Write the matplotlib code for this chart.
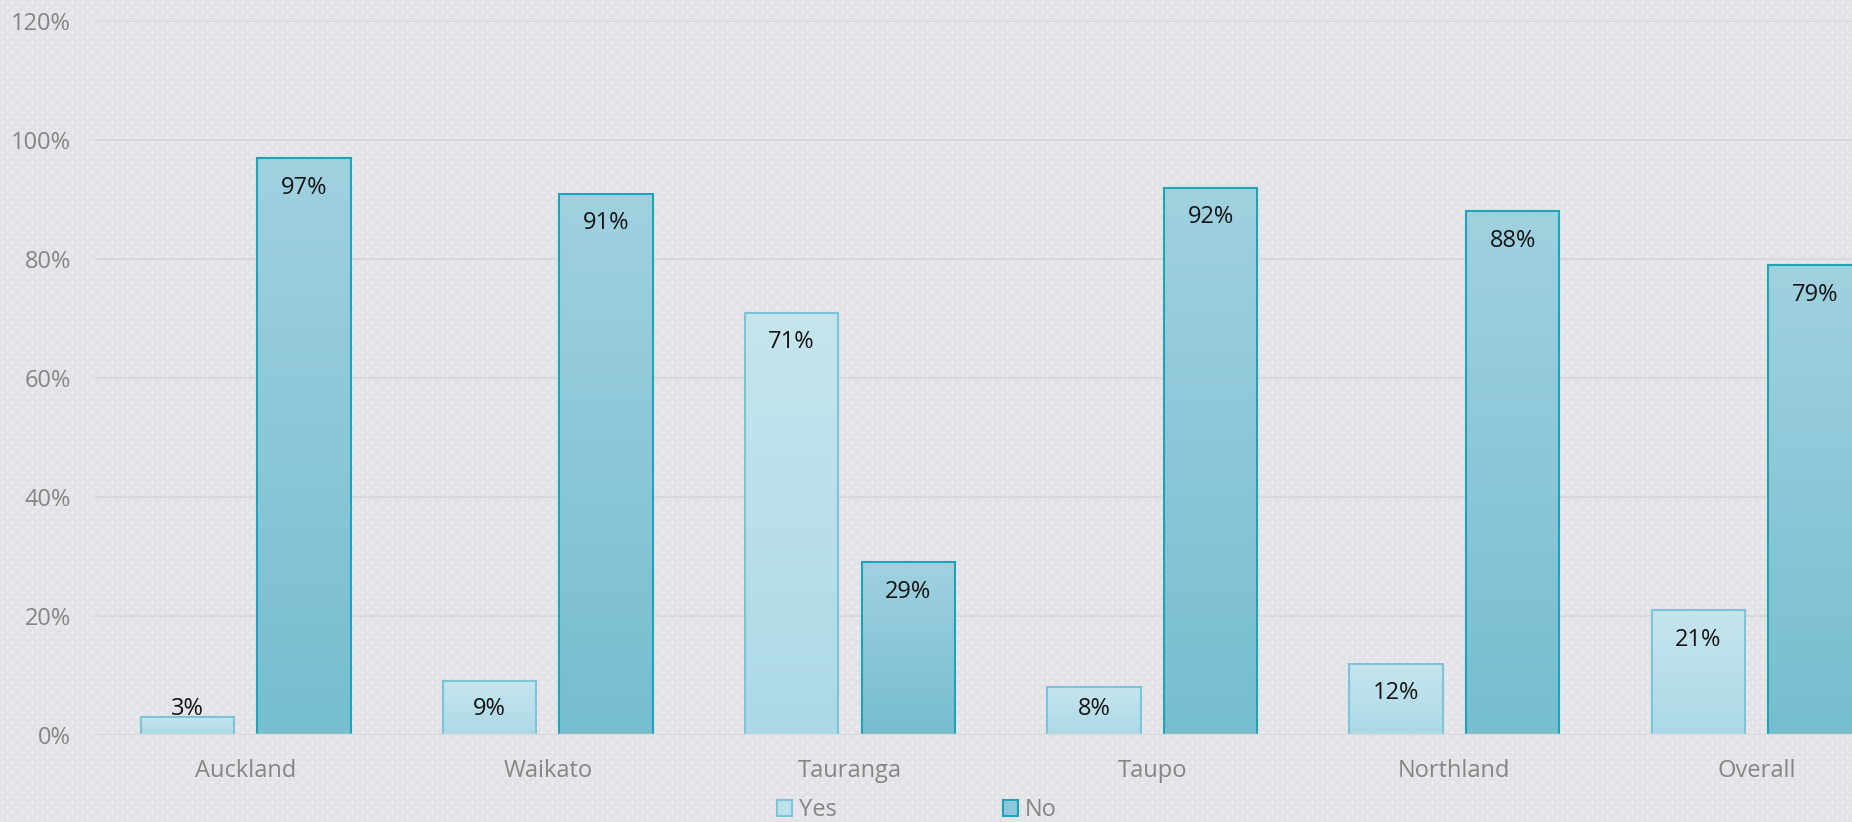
import numpy as np
import matplotlib
matplotlib.use("Agg")
import matplotlib.pyplot as plt
from matplotlib.colors import LinearSegmentedColormap
from matplotlib.patches import Patch

# Chart data
regions = ["Auckland", "Waikato", "Tauranga", "Taupo", "Northland", "Overall"]
yes_pct = [3, 9, 71, 8, 12, 21]
no_pct = [97, 91, 29, 92, 88, 79]
series_names = ["Yes", "No"]
y_ticks = [0, 20, 40, 60, 80, 100, 120]

# Styling
plt.rcParams['font.family'] = ['Open Sans', 'DejaVu Sans']
grey_text = '#858585'
yes_top, yes_bottom, yes_edge = '#c6e5ed', '#acd9e7', '#7cc5d6'
no_top, no_bottom, no_edge = '#a0d1df', '#76bdd0', '#1fa3b8'
fs = 17

W, H, DPI = 1852, 822, 100
fig = plt.figure(figsize=(W / DPI, H / DPI), dpi=DPI)
fig.patch.set_facecolor('#e4e5e9')

# Textured background: light crosses on grey
tile = np.zeros((10, 10))
for cy, cx in [(2, 2), (7, 7)]:
    tile[cy, cx - 2:cx + 3] = 1
    tile[cy - 2:cy + 3, cx] = 1
mask = np.tile(tile, (H // 10 + 1, W // 10 + 1))[:H, :W]
base = np.array([226, 227, 231]) / 255.0
light = np.array([238, 238, 241]) / 255.0
bg = base[None, None, :] * (1 - mask[..., None]) + light[None, None, :] * mask[..., None]
fig.figimage(bg, xo=0, yo=0, zorder=-10)

# Axes placed so the last category is cut at the right edge
left_px, unit_px = 94.5, 302.2
ax = fig.add_axes([left_px / W, (H - 735) / H, 1 - left_px / W, (735 - 21) / H])
ax.set_zorder(5)
ax.patch.set_alpha(0)
xmax = (W - left_px) / unit_px - 0.5

x = np.arange(len(regions))
bw = 0.309
off = 0.193


def gradient_bars(xs, vals, top, bottom, edge):
    cmap = LinearSegmentedColormap.from_list('g', [bottom, top])
    grad = np.linspace(0, 1, 256).reshape(-1, 1)
    bars = ax.bar(xs, vals, width=bw, facecolor='none', edgecolor=edge,
                  linewidth=1.5, zorder=4)
    for b in bars:
        x0, y0 = b.get_x(), b.get_y()
        ax.imshow(grad, extent=[x0, x0 + b.get_width(), y0, y0 + b.get_height()],
                  origin='lower', cmap=cmap, aspect='auto', zorder=3,
                  interpolation='bilinear')
    return bars


gradient_bars(x - off, yes_pct, yes_top, yes_bottom, yes_edge)
gradient_bars(x + off, no_pct, no_top, no_bottom, no_edge)
ax.set_xlim(-0.5, xmax)
ax.set_ylim(0, 120)

# Data labels inside the bar ends
for xs, vals in [(x - off, yes_pct), (x + off, no_pct)]:
    for xi, v in zip(xs, vals):
        ax.text(xi, max(v - 5.0, 4.4), f"{v}%", ha='center', va='center',
                fontsize=fs, color='#141414', zorder=5)

# Grid and axes
ax.set_yticks(y_ticks)
ax.set_yticklabels([f"{t}%" for t in y_ticks])
ax.set_xticks(x)
ax.set_xticklabels(regions)
ax.tick_params(axis='y', length=0, pad=17, labelsize=fs, labelcolor=grey_text)
ax.tick_params(axis='x', length=0, pad=17, labelsize=fs, labelcolor=grey_text)
for t in y_ticks[1:]:
    ax.axhline(t, color='#d8d8db', linewidth=1.5, zorder=1)
ax.axhline(0, color='#dadada', linewidth=2.5, zorder=6)
for s in ax.spines.values():
    s.set_visible(False)

# Legend at the bottom
handles = [Patch(facecolor='#bde1eb', edgecolor=yes_edge, linewidth=1.5),
           Patch(facecolor='#8cc8da', edgecolor=no_edge, linewidth=1.5)]
leg = fig.legend(handles, series_names, loc='center', ncol=2,
                 bbox_to_anchor=(917 / W, 1 - 810 / H), frameon=False,
                 fontsize=fs, handlelength=0.64, handleheight=0.64,
                 handletextpad=0.3, columnspacing=7.0, borderpad=0)
for txt in leg.get_texts():
    txt.set_color(grey_text)

fig.savefig("out.png", dpi=DPI, facecolor=fig.get_facecolor())
